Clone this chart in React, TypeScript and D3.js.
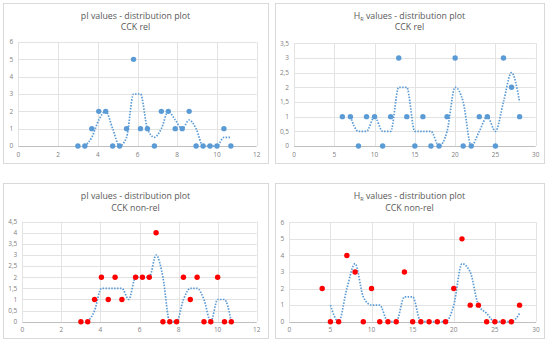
import React, { useEffect, useRef } from 'react';
import * as d3 from 'd3';

// bin centres (pI) and counts
const pIBins = [3.0, 3.35, 3.7, 4.05, 4.4, 4.75, 5.1, 5.45, 5.8, 6.15, 6.5, 6.85, 7.2, 7.55, 7.9, 8.25, 8.6, 8.95, 9.3, 9.65, 10.0, 10.35, 10.7];
const pIRel = [0, 0, 1, 2, 2, 0, 0, 1, 5, 1, 1, 0, 2, 2, 1, 1, 2, 0, 0, 0, 0, 1, 0];
const pIRelTrend = [null, 0, 0.5, 1.5, 2, 1, 0, 0.5, 3, 3, 1, 0.5, 1, 2, 1.5, 1, 1.5, 1, 0, 0, 0, 0.5, 0.5];
const pINonRel = [0, 0, 1, 2, 1, 2, 1, null, 2, 2, 2, 4, 0, 0, 0, 2, 1, 2, 0, 0, 2, 0, 0];
const pINonRelTrend = [null, 0, 0.5, 1.5, 1.5, 1.5, 1.5, 1, 2, 2, 2, 3, 2, 0, 0, 1, 1.5, 1.5, 1, 0, 1, 1, 0];

// HR bins
const hrBins = [4, 5, 6, 7, 8, 9, 10, 11, 12, 13, 14, 15, 16, 17, 18, 19, 20, 21, 22, 23, 24, 25, 26, 27, 28];
const hrRel = [null, null, 1, 1, 0, 1, 1, 0, 1, 3, 1, 0, 1, 0, 0, 1, 3, 0, 0, 1, 1, 0, 3, 2, 1];
const hrRelTrend = [null, null, null, 1, 0.5, 0.5, 1, 0.5, 0.5, 2, 2, 0.5, 0.5, 0.5, 0, 0.5, 2, 1.5, 0, 0.5, 1, 0.5, 1.5, 2.5, 1.5];
const hrNonRel = [2, 0, 0, 4, 3, 0, 2, 0, 0, 0, 3, 0, 0, 0, 0, 0, 2, 5, 1, 1, 0, 0, 0, 0, 1];
const hrNonRelTrend = [null, 1, 0, 2, 3.5, 1.5, 1, 1, 0, 0, 1.5, 1.5, 0, 0, 0, 0, 1, 3.5, 3, 1, 0.5, 0, 0, 0, 0.5];

const panels = [
  { name: 'pI', sub: '', title2: 'CCK rel', bins: pIBins, vals: pIRel, trend: pIRelTrend, color: '#5B9BD5',
    box: [3, 3, 268, 163], px: [18.3, 256.7], py: [146, 42], xMax: 12, xStep: 2, yMax: 6, yStep: 1, ty: 15.7 },
  { name: 'H', sub: 'R', title2: 'CCK rel', bins: hrBins, vals: hrRel, trend: hrRelTrend, color: '#5B9BD5',
    box: [275, 3, 544, 163], px: [294, 535.7], py: [146, 43.3], xMax: 30, xStep: 5, yMax: 3.5, yStep: 0.5, ty: 15.7 },
  { name: 'pI', sub: '', title2: 'CCK non-rel', bins: pIBins, vals: pINonRel, trend: pINonRelTrend, color: '#FF0000',
    box: [3, 183, 268, 338], px: [22.3, 256.7], py: [321.7, 221.7], xMax: 12, xStep: 2, yMax: 4.5, yStep: 0.5, ty: 196 },
  { name: 'H', sub: 'R', title2: 'CCK non-rel', bins: hrBins, vals: hrNonRel, trend: hrNonRelTrend, color: '#FF0000',
    box: [275, 183, 544, 338], px: [289.3, 536], py: [321.7, 222.3], xMax: 30, xStep: 5, yMax: 6, yStep: 1, ty: 196 },
];

const fmt = (v: number) => String(v).replace('.', ',');

const App = () => {
  const ref = useRef<SVGSVGElement>(null);

  useEffect(() => {
    const svg = d3.select(ref.current);
    svg.selectAll('*').remove();
    svg.append('rect').attr('width', 550).attr('height', 341).attr('fill', '#fff');

    panels.forEach(p => {
      const g = svg.append('g');
      const [x0, y0, x1, y1] = p.box;
      g.append('rect').attr('x', x0 + 0.5).attr('y', y0 + 0.5).attr('width', x1 - x0).attr('height', y1 - y0)
        .attr('fill', '#fff').attr('stroke', '#D9D9D9');

      const x = d3.scaleLinear().domain([0, p.xMax]).range(p.px);
      const y = d3.scaleLinear().domain([0, p.yMax]).range(p.py);
      const xt = d3.range(0, p.xMax + 0.001, p.xStep);
      const yt = d3.range(0, p.yMax + 0.001, p.yStep);

      g.selectAll('.hg').data(yt).enter().append('line')
        .attr('x1', p.px[0]).attr('x2', p.px[1])
        .attr('y1', d => Math.round(y(d)) + 0.5).attr('y2', d => Math.round(y(d)) + 0.5)
        .attr('stroke', d => (d === 0 ? '#BFBFBF' : '#E3E3E3')).attr('stroke-width', 1);
      g.selectAll('.vg').data(xt).enter().append('line')
        .attr('x1', d => Math.round(x(d)) + 0.5).attr('x2', d => Math.round(x(d)) + 0.5)
        .attr('y1', p.py[1]).attr('y2', p.py[0])
        .attr('stroke', '#E3E3E3');

      g.selectAll('.yl').data(yt).enter().append('text')
        .attr('x', p.px[0] - 5).attr('y', d => y(d)).attr('dy', '0.35em')
        .attr('text-anchor', 'end').attr('font-size', 6.5).attr('fill', '#7F7F7F')
        .attr('font-family', 'Open Sans, sans-serif').text(d => fmt(d));
      g.selectAll('.xl').data(xt).enter().append('text')
        .attr('x', d => x(d)).attr('y', p.py[0] + 8.5).attr('dy', '0.35em')
        .attr('text-anchor', 'middle').attr('font-size', 6.5).attr('fill', '#7F7F7F')
        .attr('font-family', 'Open Sans, sans-serif').text(d => fmt(d));

      const cx = (x0 + x1) / 2;
      const t1 = g.append('text').attr('x', cx).attr('y', p.ty).attr('dy', '0.35em')
        .attr('text-anchor', 'middle').attr('font-size', 8.8).attr('fill', '#595959')
        .attr('font-family', 'Open Sans, sans-serif');
      t1.append('tspan').text(p.name);
      if (p.sub) t1.append('tspan').attr('font-size', 5.5).attr('dy', 2).text(p.sub);
      t1.append('tspan').attr('dy', p.sub ? -2 : 0).text(' values - distribution plot');
      g.append('text').attr('x', cx).attr('y', p.ty + 11.6).attr('dy', '0.35em')
        .attr('text-anchor', 'middle').attr('font-size', 8.8).attr('fill', '#595959')
        .attr('font-family', 'Open Sans, sans-serif').text(p.title2);

      const trendPts = p.bins.map((b, i) => [b, p.trend[i]] as [number, number | null]);
      const line = d3.line<[number, number | null]>()
        .defined(d => d[1] !== null)
        .x(d => x(d[0])).y(d => y(d[1] as number))
        .curve(d3.curveMonotoneX);
      g.append('path').attr('d', line(trendPts)).attr('fill', 'none')
        .attr('stroke', '#5B9BD5').attr('stroke-width', 1.7)
        .attr('stroke-dasharray', '1.5 1.4');

      const pts = p.bins.map((b, i) => ({ b, v: p.vals[i] })).filter(d => d.v !== null);
      g.selectAll('.pt').data(pts).enter().append('circle')
        .attr('cx', d => x(d.b)).attr('cy', d => y(d.v as number)).attr('r', 2.7)
        .attr('fill', p.color);
    });
  }, []);

  return (
    <svg ref={ref} width={550} height={341} style={{ position: 'absolute', left: 0, top: 0 }} />
  );
};

export default App;
